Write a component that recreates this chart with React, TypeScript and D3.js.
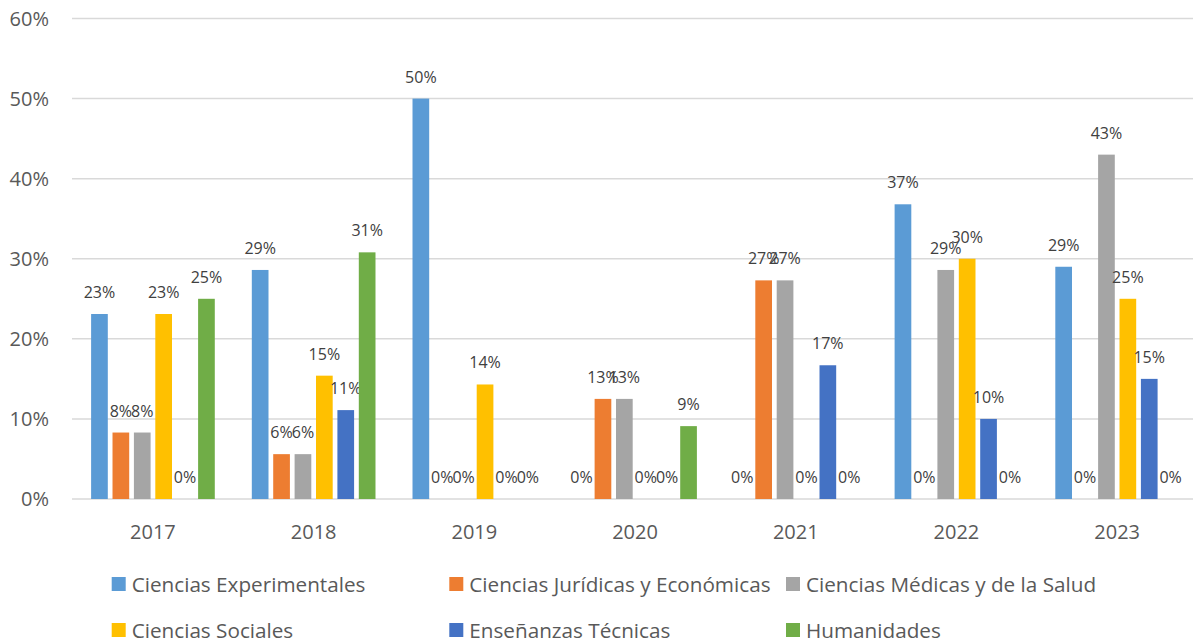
import React from "react";
import * as d3 from "d3";

const years = ["2017", "2018", "2019", "2020", "2021", "2022", "2023"];
const seriesNames = [
  "Ciencias Experimentales",
  "Ciencias Jurídicas y Económicas",
  "Ciencias Médicas y de la Salud",
  "Ciencias Sociales",
  "Enseñanzas Técnicas",
  "Humanidades",
];
const seriesColors = ["#5B9BD5", "#ED7D31", "#A5A5A5", "#FFC000", "#4472C4", "#70AD47"];

// values in percent, one array per series, ordered by year
const cienciasExperimentales = [23.1, 28.6, 50, 0, 0, 36.8, 29.0];
const cienciasJuridicas = [8.3, 5.6, 0, 12.5, 27.3, 0, 0];
const cienciasMedicas = [8.3, 5.6, 0, 12.5, 27.3, 28.6, 43.0];
const cienciasSociales = [23.1, 15.4, 14.3, 0, 0, 30.0, 25.0];
const ensenanzasTecnicas = [0, 11.1, 0, 0, 16.7, 10.0, 15.0];
const humanidades = [25.0, 30.8, 0, 9.1, 0, 0, 0];

const seriesValues = [
  cienciasExperimentales,
  cienciasJuridicas,
  cienciasMedicas,
  cienciasSociales,
  ensenanzasTecnicas,
  humanidades,
];

const yTicks = [0, 10, 20, 30, 40, 50, 60];

const W = 1193;
const H = 638;
const FONT = "'Open Sans', sans-serif";

export default function App() {
  const x0 = d3.scaleBand<string>().domain(years).range([72.6, 1197.5]).padding(0);
  const x1 = d3
    .scaleBand<string>()
    .domain(seriesNames)
    .range([0, x0.bandwidth()])
    .paddingInner(0.22)
    .paddingOuter(0.865);
  const y = d3.scaleLinear().domain([0, 60]).range([499, 18.5]);

  const legendCols = [111.7, 449.3, 786];
  const legendRows = [577, 623];

  return (
    <svg
      width={W}
      height={H}
      style={{ position: "absolute", left: 0, top: 0, display: "block", background: "#fff" }}
      fontFamily={FONT}
    >
      {/* gridlines */}
      {yTicks.map((t) => (
        <line
          key={"g" + t}
          x1={72}
          x2={W}
          y1={y(t)}
          y2={y(t)}
          stroke="#D9D9D9"
          strokeWidth={1.5}
        />
      ))}
      {/* y tick labels */}
      {yTicks.map((t) => (
        <text
          key={"yt" + t}
          x={49}
          y={y(t)}
          dy="0.35em"
          textAnchor="end"
          fontSize={20}
          fill="#595959"
        >
          {t + "%"}
        </text>
      ))}
      {/* bars */}
      {years.map((yr, i) => (
        <g key={yr} transform={`translate(${x0(yr)},0)`}>
          {seriesNames.map((s, j) => {
            const v = seriesValues[j][i];
            const bx = x1(s) as number;
            return (
              <g key={s}>
                {v > 0 && (
                  <rect
                    x={bx}
                    y={y(v)}
                    width={x1.bandwidth()}
                    height={y(0) - y(v)}
                    fill={seriesColors[j]}
                  />
                )}
                <text
                  x={bx + x1.bandwidth() / 2}
                  y={y(v) - 16}
                  textAnchor="middle"
                  fontSize={16}
                  fill="#404040"
                >
                  {Math.round(v) + "%"}
                </text>
              </g>
            );
          })}
        </g>
      ))}
      {/* x labels */}
      {years.map((yr) => (
        <text
          key={"xl" + yr}
          x={(x0(yr) as number) + x0.bandwidth() / 2}
          y={539}
          textAnchor="middle"
          fontSize={20}
          fill="#595959"
        >
          {yr}
        </text>
      ))}
      {/* legend */}
      {seriesNames.map((s, j) => {
        const col = j % 3;
        const row = Math.floor(j / 3);
        const lx = legendCols[col];
        const ly = legendRows[row];
        return (
          <g key={"lg" + s}>
            <rect x={lx} y={ly} width={14} height={14} fill={seriesColors[j]} />
            <text x={lx + 20} y={ly + 14.5} fontSize={20.7} fill="#595959">
              {s}
            </text>
          </g>
        );
      })}
    </svg>
  );
}
